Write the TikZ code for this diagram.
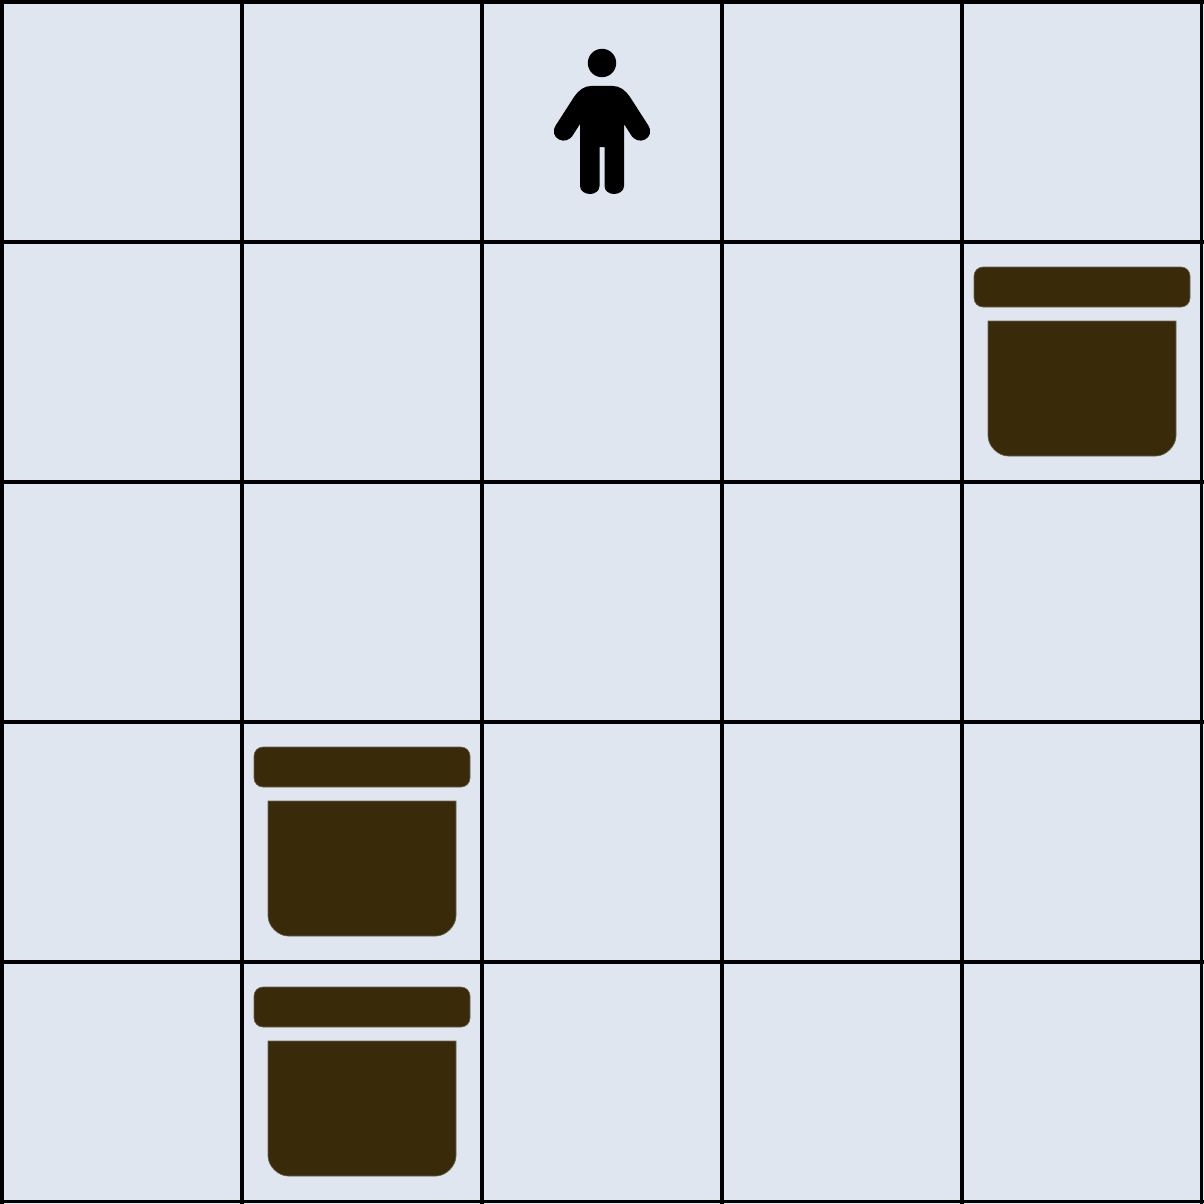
\documentclass[tikz,border=0pt]{standalone}
\definecolor{cellbg}{HTML}{DFE6F0}
\definecolor{jarbrown}{HTML}{392A09}
\tikzset{
  gridline/.style={draw=black,line width=3.4pt},
  jarpart/.style={fill=jarbrown,draw=jarbrown!70!cellbg,line width=0.6pt},
  person/.style={fill=black,draw=none},
  jar/.pic={
    \path[jarpart] (21,26) -- (219,26) .. controls (224,26) and (228,30) .. (228,35)
      -- (228,57) .. controls (228,62) and (224,66) .. (219,66)
      -- (21,66) .. controls (16,66) and (12,62) .. (12,57)
      -- (12,35) .. controls (12,30) and (16,26) .. (21,26) -- cycle;
    \path[jarpart] (26,80) -- (214,80) -- (214,195)
      .. controls (214,205) and (204,215) .. (194,215) -- (46,215)
      .. controls (36,215) and (26,205) .. (26,195) -- cycle;
  }
}
\begin{document}
\begin{tikzpicture}[x=1pt,y=-1pt]
\useasboundingbox (0,0) rectangle (1204,1204);
\fill[cellbg] (0,0) rectangle (1204,1204);
% jars
\pic at (962,241) {jar};
\pic at (242,721) {jar};
\pic at (242,961) {jar};
% person
\fill[person] (602,63) circle[radius=14.2];
\fill[person] (591,86) -- (613,86)
  .. controls (620,86) and (625,90) .. (630,97)
  -- (648,125)
  .. controls (652,131) and (650,137) .. (645,139.5)
  .. controls (640,142) and (635,140) .. (632,136.5)
  -- (624,124) -- (624,186)
  .. controls (624,191) and (619,194) .. (614,194)
  .. controls (609,194) and (604.5,191) .. (604.5,186)
  -- (604.5,147) -- (599.5,147) -- (599.5,186)
  .. controls (599.5,191) and (595,194) .. (590,194)
  .. controls (585,194) and (580,191) .. (580,186)
  -- (580,124) -- (572,136.5)
  .. controls (569,140) and (564,142) .. (559,139.5)
  .. controls (554,137) and (552,131) .. (556,125)
  -- (574,97)
  .. controls (579,90) and (584,86) .. (591,86) -- cycle;
% grid
\foreach \p in {2,242,482,722,962,1201.5}{
  \draw[gridline] (\p,0.5) -- (\p,1203.5);
  \draw[gridline] (0.5,\p) -- (1203.5,\p);
}
\end{tikzpicture}
\end{document}
